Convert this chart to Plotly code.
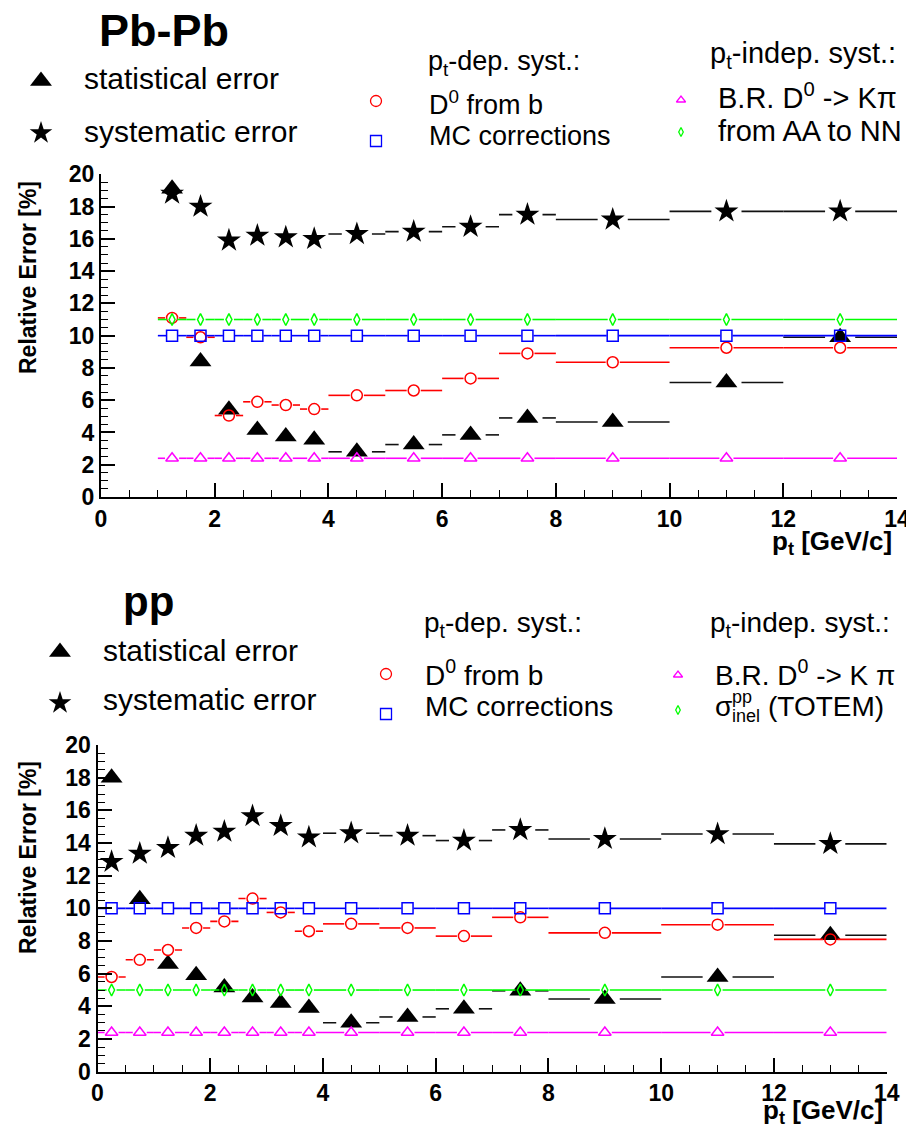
import plotly.graph_objects as go

# ---------------- data ----------------
pbpb_pt = [1.25, 1.75, 2.25, 2.75, 3.25, 3.75, 4.5, 5.5, 6.5, 7.5, 9, 11, 13]
pbpb_lo = [1.0, 1.5, 2.0, 2.5, 3.0, 3.5, 4, 5, 6, 7, 8, 10, 12]
pbpb_hi = [1.5, 2.0, 2.5, 3.0, 3.5, 4.0, 5, 6, 7, 8, 10, 12, 14]
pbpb_stat = [19.1, 8.4, 5.4, 4.15, 3.75, 3.55, 2.8, 3.25, 3.85, 4.9, 4.65, 7.1, 9.9]
pbpb_syst = [18.8, 18.0, 15.9, 16.2, 16.1, 16.0, 16.3, 16.45, 16.75, 17.5, 17.2, 17.7, 17.7]
pbpb_fromb = [11.1, 9.9, 5.05, 5.9, 5.7, 5.45, 6.3, 6.6, 7.35, 8.9, 8.35, 9.25, 9.25]
pbpb_mc = [10, 10, 10, 10, 10, 10, 10, 10, 10, 10, 10, 10, 10]
pbpb_br = [2.4, 2.4, 2.4, 2.4, 2.4, 2.4, 2.4, 2.4, 2.4, 2.4, 2.4, 2.4, 2.4]
pbpb_aann = [11, 11, 11, 11, 11, 11, 11, 11, 11, 11, 11, 11, 11]

pp_pt = [0.25, 0.75, 1.25, 1.75, 2.25, 2.75, 3.25, 3.75, 4.5, 5.5, 6.5, 7.5, 9, 11, 13]
pp_lo = [0.0, 0.5, 1.0, 1.5, 2.0, 2.5, 3.0, 3.5, 4, 5, 6, 7, 8, 10, 12]
pp_hi = [0.5, 1.0, 1.5, 2.0, 2.5, 3.0, 3.5, 4.0, 5, 6, 7, 8, 10, 12, 14]
pp_stat = [18.0, 10.55, 6.6, 5.9, 5.15, 4.55, 4.2, 3.9, 3.0, 3.35, 3.85, 4.95, 4.45, 5.8, 8.35]
pp_syst = [12.85, 13.35, 13.7, 14.45, 14.7, 15.65, 15.05, 14.35, 14.6, 14.45, 14.15, 14.8, 14.25, 14.55, 13.95]
pp_fromb = [5.8, 6.85, 7.45, 8.8, 9.2, 10.6, 9.75, 8.6, 9.05, 8.8, 8.3, 9.45, 8.5, 9.0, 8.1]
pp_mc = [10, 10, 10, 10, 10, 10, 10, 10, 10, 10, 10, 10, 10, 10, 10]
pp_br = [2.4, 2.4, 2.4, 2.4, 2.4, 2.4, 2.4, 2.4, 2.4, 2.4, 2.4, 2.4, 2.4, 2.4, 2.4]
pp_totem = [5.0, 5.0, 5.0, 5.0, 5.0, 5.0, 5.0, 5.0, 5.0, 5.0, 5.0, 5.0, 5.0, 5.0, 5.0]

x_ticks = [0, 2, 4, 6, 8, 10, 12, 14]
y_ticks = [0, 2, 4, 6, 8, 10, 12, 14, 16, 18, 20]

# ---------------- style ----------------
OFF = 8                 # page body margin
W, H = 914 - OFF, 1130 - OFF
FONT = "Liberation Sans, Arial, Helvetica, sans-serif"
PXU = 56.6  # pixels per pt unit (for error-bar gaps)


def px(x):
    return (x - OFF) / W


def py(y):
    return 1 - (y - OFF) / H


def segments(x, lo, hi, y, gap_px):
    gap = gap_px / PXU
    xs, ys = [], []
    for xi, l, h, yi in zip(x, lo, hi, y):
        if xi - gap > l:
            xs += [l, xi - gap, None]
            ys += [yi, yi, None]
        if h > xi + gap:
            xs += [xi + gap, h, None]
            ys += [yi, yi, None]
    return xs, ys


series_style = {
    "stat": dict(symbol="triangle-up", size=19, color="black", open=False, gap=15, lc="#111111"),
    "syst": dict(symbol="star", size=18, color="black", open=False, gap=15, lc="#111111"),
    "fromb": dict(symbol="circle-open", size=11, color="#ff0000", open=True, gap=7, lc="#ff0000"),
    "mc": dict(symbol="square-open", size=11, color="#0000ff", open=True, gap=6, lc="#0000ff"),
    "br": dict(symbol="triangle-up-open", size=11, color="#ff00ff", open=True, gap=7, lc="#ff00ff"),
    "ind": dict(symbol="diamond-tall-open", size=8.5, color="#00ff00", open=True, gap=5, lc="#00ff00"),
}

fig = go.Figure()


def add_series(x, lo, hi, y, key, xa, ya):
    st = series_style[key]
    sx, sy = segments(x, lo, hi, y, st["gap"])
    fig.add_trace(go.Scatter(x=sx, y=sy, mode="lines", xaxis=xa, yaxis=ya,
                             line=dict(color=st["lc"], width=1.6),
                             showlegend=False, hoverinfo="skip"))
    mk = dict(symbol=st["symbol"], size=st["size"], color=st["color"])
    mk["line"] = dict(color=st["color"], width=1.5 if st["open"] else 0)
    fig.add_trace(go.Scatter(x=x, y=y, mode="markers", xaxis=xa, yaxis=ya,
                             marker=mk, showlegend=False, cliponaxis=False))


# top: Pb-Pb
for yv, key in [(pbpb_stat, "stat"), (pbpb_syst, "syst"), (pbpb_fromb, "fromb"),
                (pbpb_mc, "mc"), (pbpb_br, "br"), (pbpb_aann, "ind")]:
    add_series(pbpb_pt, pbpb_lo, pbpb_hi, yv, key, "x", "y")

# bottom: pp
for yv, key in [(pp_stat, "stat"), (pp_syst, "syst"), (pp_fromb, "fromb"),
                (pp_mc, "mc"), (pp_br, "br"), (pp_totem, "ind")]:
    add_series(pp_pt, pp_lo, pp_hi, yv, key, "x2", "y2")

# legend key markers on a hidden full-page pixel-space subplot
legend_marks = [
    # (x, y, key, size)
    (41, 81, "stat", 19), (41, 133, "syst", 17),
    (376, 101, "fromb", 11), (376, 141, "mc", 11),
    (681, 100, "br", 8), (681, 132, "ind", 6.5),
    (60, 652, "stat", 19), (60, 703, "syst", 17),
    (386, 674, "fromb", 11), (386, 714, "mc", 11),
    (678, 675, "br", 8), (678, 710, "ind", 6.5),
]
for lx, ly, key, sz in legend_marks:
    st = series_style[key]
    mk = dict(symbol=st["symbol"], size=sz, color=st["color"])
    mk["line"] = dict(color=st["color"], width=1.3 if st["open"] else 0)
    fig.add_trace(go.Scatter(x=[lx], y=[ly], mode="markers", xaxis="x3", yaxis="y3",
                             marker=mk, showlegend=False, hoverinfo="skip", cliponaxis=False))

tickfont = dict(family=FONT, size=23, color="black", weight="bold")
common_x = dict(range=[0, 14], tickvals=x_ticks, ticks="inside", ticklen=14, tickwidth=1.5,
                tickcolor="black", showline=True, linecolor="black", linewidth=2,
                showgrid=False, zeroline=False, tickfont=tickfont, automargin=False,
                minor=dict(dtick=0.5, ticks="inside", ticklen=7, tickwidth=1.2, tickcolor="black", showgrid=False))
common_y = dict(range=[0, 20], tickvals=y_ticks, ticks="inside", ticklen=14, tickwidth=1.5,
                tickcolor="black", showline=True, linecolor="black", linewidth=2,
                showgrid=False, zeroline=False, tickfont=tickfont, automargin=False,
                minor=dict(dtick=0.5, ticks="inside", ticklen=7, tickwidth=1.2, tickcolor="black", showgrid=False))

fig.update_layout(
    width=W, height=H,
    margin=dict(l=0, r=0, t=0, b=0, pad=0, autoexpand=False),
    paper_bgcolor="white", plot_bgcolor="rgba(0,0,0,0)",
    showlegend=False,
    xaxis=dict(domain=[px(101), px(897)], anchor="y", **common_x),
    yaxis=dict(domain=[py(497), py(174.3)], anchor="x", **common_y),
    xaxis2=dict(domain=[px(97.5), px(886.7)], anchor="y2", **common_x),
    yaxis2=dict(domain=[py(1071.7), py(745)], anchor="x2", **common_y),
    xaxis3=dict(domain=[0, 1], range=[OFF, OFF + W], visible=False, anchor="y3", automargin=False),
    yaxis3=dict(domain=[0, 1], range=[OFF + H, OFF], visible=False, anchor="x3", automargin=False),
)

ann = []


def text(x, y, s, size, bold=False, xanchor="left", yanchor="middle", angle=0):
    ann.append(dict(x=px(x), y=py(y), xref="paper", yref="paper", text=s, showarrow=False,
                    xanchor=xanchor, yanchor=yanchor, textangle=angle,
                    font=dict(family=FONT, size=size, color="black", weight="bold" if bold else "normal")))


# top panel texts
text(97, 30, "Pb-Pb", 45, bold=True)
text(82, 79, "statistical error", 30)
text(82, 132, "systematic error", 30)
text(426, 63, "p<sub>t</sub>-dep. syst.:", 27)
text(427, 103, "D<sup>0</sup> from b", 27)
text(427, 136, "MC corrections", 27)
text(708, 55, "p<sub>t</sub>-indep. syst.:", 29)
text(716, 96, "B.R. D<sup>0</sup> -> Kπ", 29)
text(716, 131, "from AA to NN", 29)
text(28, 278, "Relative Error [%]", 23, bold=True, xanchor="center", angle=-90)
text(894, 542, "p<sub>t</sub> [GeV/c]", 26, bold=True, xanchor="right")

# bottom panel texts
text(121, 601, "pp", 42, bold=True)
text(101, 650, "statistical error", 30)
text(101, 700, "systematic error", 30)
text(422, 624, "p<sub>t</sub>-dep. syst.:", 28)
text(423, 673, "D<sup>0</sup> from b", 28)
text(423, 706, "MC corrections", 28)
text(708, 624, "p<sub>t</sub>-indep. syst.:", 28)
text(713, 673, "B.R. D<sup>0</sup> -> K π", 28)
text(713, 706, "σ", 28)
text(730, 697, "pp", 18)
text(730, 716, "inel", 18)
text(766, 706, "(TOTEM)", 28)
text(28, 858, "Relative Error [%]", 23, bold=True, xanchor="center", angle=-90)
text(885, 1111, "p<sub>t</sub> [GeV/c]", 26, bold=True, xanchor="right")

fig.update_layout(annotations=ann)

fig.write_html("out.html")
